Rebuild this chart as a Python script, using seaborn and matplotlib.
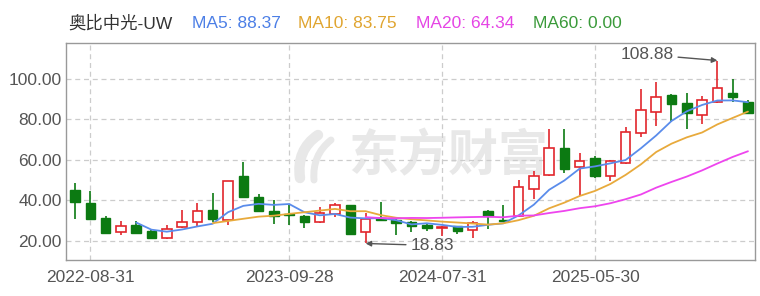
import numpy as np
import pandas as pd
import matplotlib
matplotlib.use('Agg')
import matplotlib.pyplot as plt
from matplotlib.path import Path
from matplotlib.patches import PathPatch
import seaborn as sns

# ---------------- data ----------------
stock_name = '奥比中光-UW'
months = [str(p) for p in pd.period_range('2022-07', '2026-03', freq='M')]
opens = [45.2, 38.7, 31.3, 24.4, 28.0, 25.2, 21.4, 26.7, 29.6, 35.4,
         30.5, 51.8, 41.9, 35.0, 33.5, 32.5, 29.6, 33.4, 37.8, 24.4,
         31.5, 30.5, 29.6, 28.0, 26.4, 27.2, 25.6, 35.0, 30.5, 32.4,
         45.7, 52.6, 66.0, 56.4, 60.8, 51.8, 58.4, 73.4, 83.6, 92.0,
         88.2, 82.1, 88.4, 92.8, 88.7]
highs = [48.8, 44.9, 32.4, 29.8, 30.0, 25.5, 28.0, 35.3, 38.7, 43.9,
         49.8, 58.7, 43.1, 40.0, 38.0, 33.0, 37.0, 38.7, 38.0, 34.0,
         39.0, 30.8, 30.0, 29.1, 27.5, 27.6, 30.0, 35.2, 37.8, 50.1,
         54.6, 75.2, 75.2, 63.3, 62.0, 60.0, 76.0, 94.8, 98.2, 92.2,
         92.8, 91.6, 108.88, 100.0, 89.3]
lows = [30.8, 30.5, 24.0, 23.0, 24.0, 21.2, 21.2, 26.5, 27.5, 29.6,
        27.7, 41.4, 34.4, 28.5, 28.0, 26.4, 28.8, 32.0, 23.5, 18.83,
        30.0, 23.0, 24.4, 25.2, 22.5, 23.4, 21.5, 26.0, 29.5, 32.0,
        40.6, 52.0, 53.4, 42.0, 51.0, 49.8, 58.0, 71.2, 76.7, 78.8,
        75.2, 77.7, 88.0, 88.7, 82.5]
closes = [39.0, 30.8, 24.2, 27.5, 24.2, 21.4, 25.9, 29.6, 35.0, 30.8,
          49.7, 41.6, 34.6, 32.4, 33.0, 29.5, 34.0, 37.8, 23.6, 31.0,
          30.2, 28.8, 27.5, 26.4, 27.0, 25.2, 29.1, 32.4, 30.0, 46.4,
          51.8, 65.7, 55.4, 59.2, 51.8, 59.2, 73.9, 84.3, 90.8, 87.4,
          83.0, 89.5, 95.3, 91.0, 83.0]
tick_dates = ['2022-08-31', '2023-09-28', '2024-07-31', '2025-05-30']
ma_names = ['MA5', 'MA10', 'MA20', 'MA60']
ma_windows = [5, 10, 20, 60]
ma_header_values = [88.37, 83.75, 64.34, 0.00]
y_ticks = [20, 40, 60, 80, 100]
max_label = '108.88'
min_label = '18.83'

# ---------------- style ----------------
sns.set_theme(style='white')
plt.rcParams['font.family'] = ['Liberation Sans', 'Noto Sans CJK SC', 'DejaVu Sans']

RED = '#E2262C'
GREEN = '#0C7A12'
ma_colors = ['#5A8CEB', '#E8AA3C', '#EE45EE', '#3A9A3A']
header_colors = ['#4C7FE6', '#E0A530', '#E545E5', '#3A9A3A']
WM = '#E8E8E8'

df = pd.DataFrame({'month': months, 'open': opens, 'high': highs,
                   'low': lows, 'close': closes})
df['x'] = np.arange(len(df))
for name, w in zip(ma_names, ma_windows):
    df[name] = df['close'].rolling(w).mean()

W, H = 760, 296
fig = plt.figure(figsize=(W / 100, H / 100), dpi=100)
ax = fig.add_axes([66 / W, 1 - 260 / H, (755 - 66) / W, (260 - 43) / H])


def px(x, y):
    return (x / W, 1 - y / H)


# watermark (logo strokes + text)
for pts, lw in [([(300, 178), (296, 150), (318, 135)], 7.5),
                ([(314, 180), (312, 155), (331, 140)], 5.0)]:
    path = Path([px(*p) for p in pts], [Path.MOVETO, Path.CURVE3, Path.CURVE3])
    fig.patches.append(PathPatch(path, transform=fig.transFigure, fill=False,
                                 edgecolor=WM, lw=lw, capstyle='round', zorder=0))
ax.text(0.555, 0.475, '东方财富', transform=ax.transAxes, ha='center', va='center',
        fontsize=36, fontweight='bold', color=WM, zorder=0,
        family=['Noto Sans CJK SC'])
ax.patch.set_alpha(0)

# grid
for yv in y_ticks:
    ax.axhline(yv, color='#CCCCCC', lw=0.9, ls=(0, (4, 3)), zorder=1)
tick_pos = [months.index(d[:7]) for d in tick_dates]
for xp in tick_pos:
    ax.axvline(xp, color='#CCCCCC', lw=0.9, ls=(0, (4, 3)), zorder=1)

# candles
up = df['close'] >= df['open']
wick_colors = [RED if u else GREEN for u in up]
ax.vlines(df['x'], df['low'], df['high'], colors=wick_colors, lw=1.2, zorder=2)
body_bottom = np.minimum(df['open'], df['close'])
body_h = np.maximum(np.abs(df['close'] - df['open']), 0.3)
ax.bar(df['x'][up], body_h[up], bottom=body_bottom[up], width=0.62,
       facecolor='white', edgecolor=RED, linewidth=1.2, zorder=3)
ax.bar(df['x'][~up], body_h[~up], bottom=body_bottom[~up], width=0.62,
       facecolor=GREEN, edgecolor=GREEN, linewidth=1.0, zorder=3)

# moving averages
for name, c in zip(ma_names[:3], ma_colors[:3]):
    sub = df.dropna(subset=[name])
    sns.lineplot(data=sub, x='x', y=name, color=c, lw=1.3, ax=ax, zorder=4)

# annotations
imax = int(np.argmax(highs))
imin = int(np.argmin(lows))
arrow = dict(arrowstyle='-|>', color='#555555', lw=1.0, mutation_scale=8,
             shrinkA=1, shrinkB=0)
ax.annotate(max_label, xy=(imax, highs[imax]), xytext=(-44, 6),
            textcoords='offset pixels', ha='right', va='center',
            fontsize=12.5, color='#555555', arrowprops=arrow, zorder=5)
ax.annotate(min_label, xy=(imin, lows[imin]), xytext=(45, -2),
            textcoords='offset pixels', ha='left', va='center',
            fontsize=12.5, color='#555555', arrowprops=arrow, zorder=5)

# axes
ax.set_xlim(-0.59, 44.46)
ax.set_ylim(10.7, 117.5)
ax.set_yticks(y_ticks)
ax.set_yticklabels([f'{v:.2f}' for v in y_ticks])
ax.set_xticks(tick_pos)
ax.set_xticklabels(tick_dates)
ax.set_xlabel('')
ax.set_ylabel('')
ax.tick_params(axis='both', length=0, labelsize=12.5, colors='#555555')
ax.tick_params(axis='y', pad=3)
ax.tick_params(axis='x', pad=7)
for sp in ax.spines.values():
    sp.set_color('#999999')
    sp.set_linewidth(1.0)

# header
fig.text(68 / W, 1 - 23 / H, stock_name, ha='left', va='center',
         fontsize=12.5, color='#333333')
header_x = [192, 298, 416, 533]
for name, val, c, hx in zip(ma_names, ma_header_values, header_colors, header_x):
    fig.text(hx / W, 1 - 23 / H, f'{name}: {val:.2f}', ha='left', va='center',
             fontsize=12.5, color=c)

fig.savefig('out.png', dpi=100)
